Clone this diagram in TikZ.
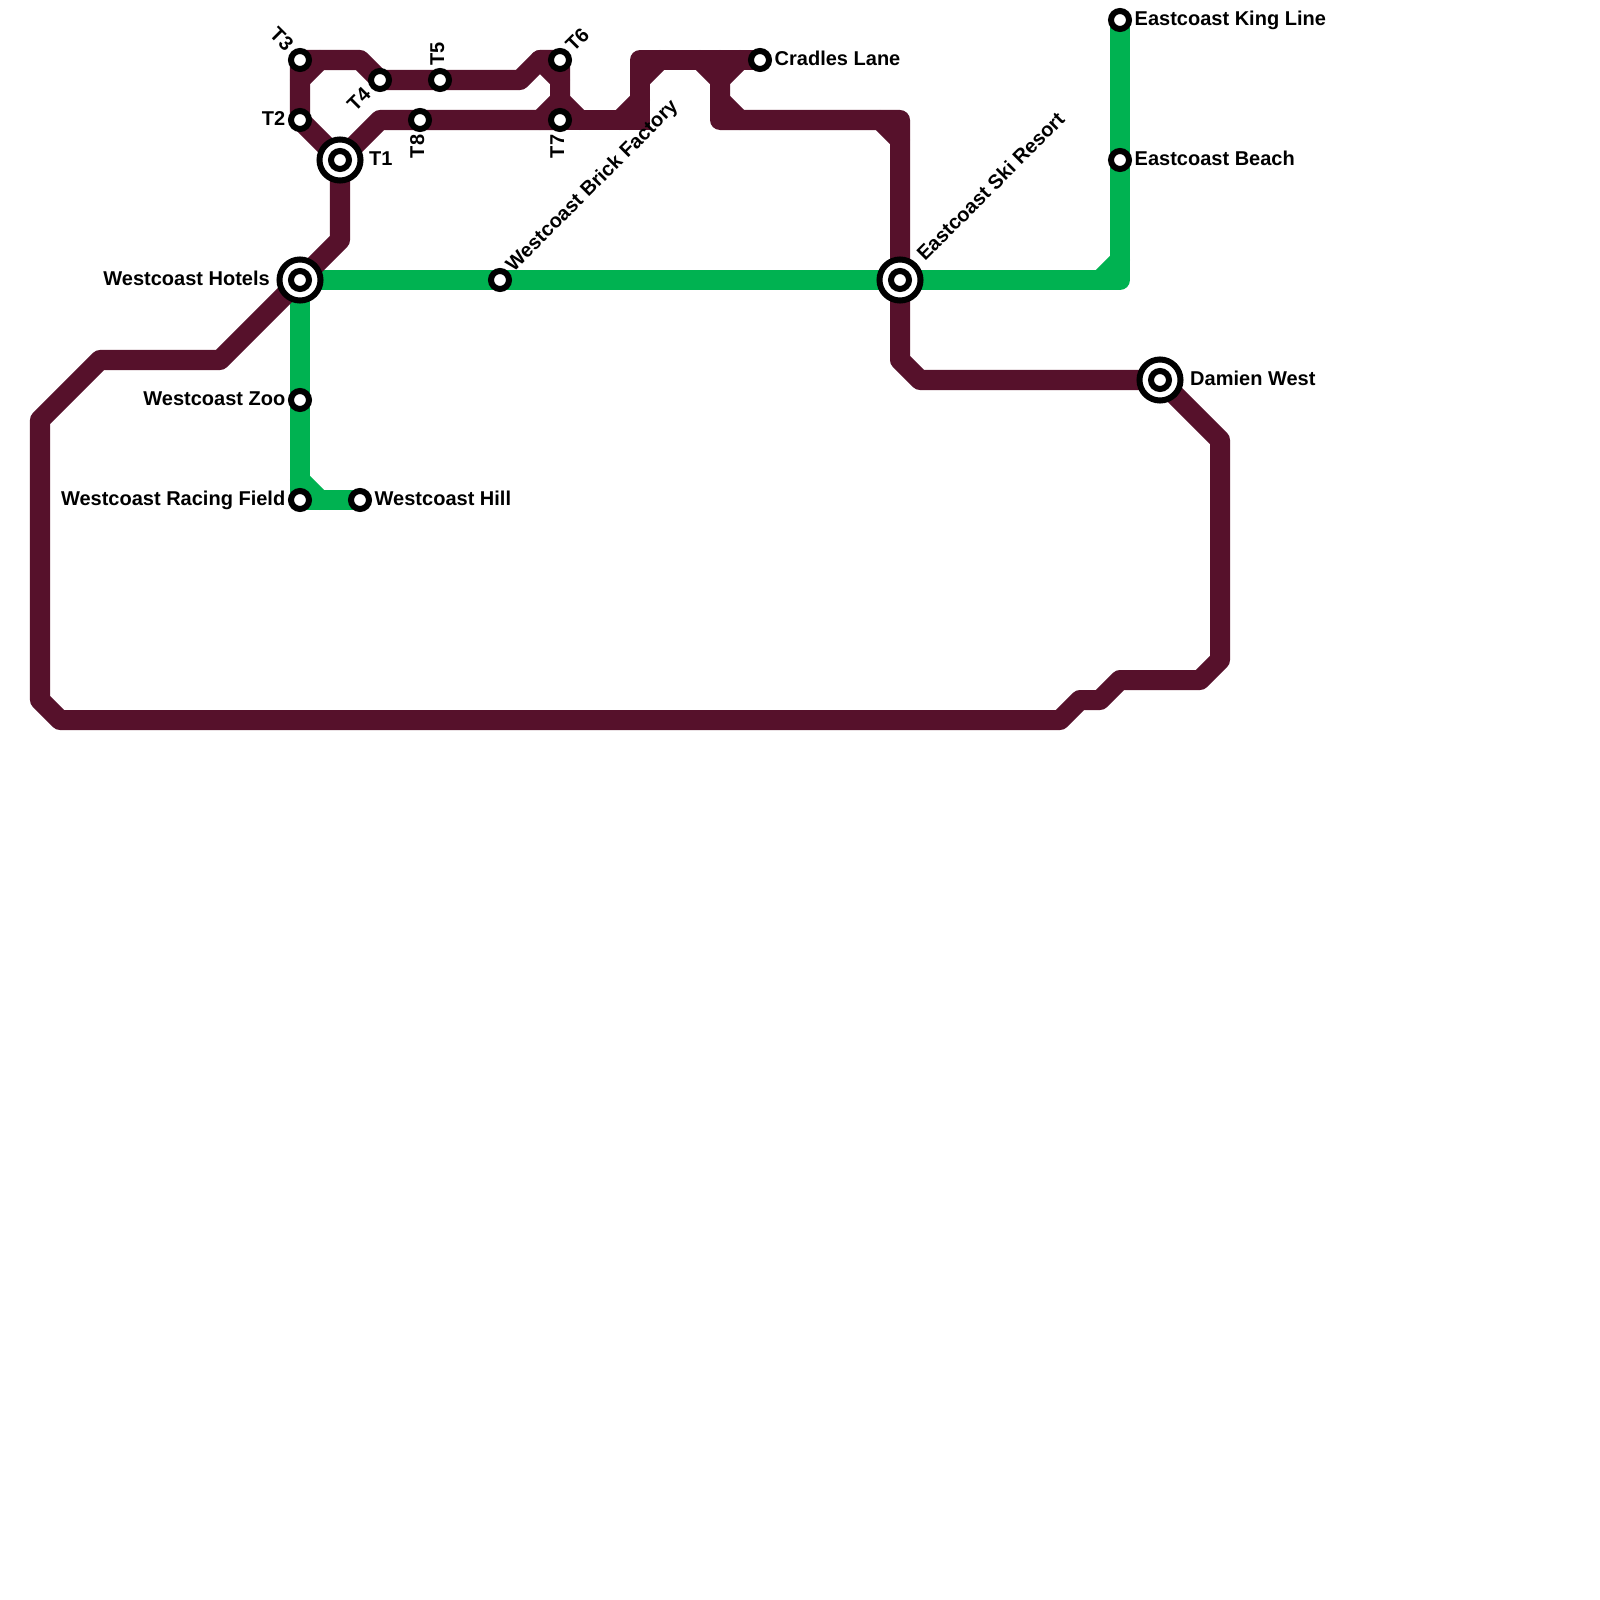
\documentclass[tikz,border=0pt]{standalone}
\usepackage{fontspec}
\setmainfont{Liberation Sans}
\usetikzlibrary{positioning,backgrounds}
\definecolor{maroonline}{HTML}{56112B}
\definecolor{greenline}{HTML}{00B251}

\begin{document}
\begin{tikzpicture}[
    x=0.01cm,y=-0.01cm,
    stn/.style={circle,draw=black,fill=white,line width=0.06cm,minimum size=0.18cm,inner sep=0pt},
    hub/.style={circle,draw=black,fill=white,line width=0.06cm,minimum size=0.41cm,inner sep=0pt},
    lbl/.style={inner sep=0pt,text height=0.155cm,text depth=0.045cm,font=\bfseries\fontsize{5.69}{6.8}\selectfont},
    mline/.style={draw=maroonline,line width=0.2cm,line cap=round,line join=round},
    gline/.style={draw=greenline,line width=0.2cm,line cap=round,line join=round}
]
\useasboundingbox (0,0) rectangle (1600,1600);
% interchanges
\node[hub] (t1) at (340,160) {};
\node[stn] (t1c) at (t1) {};
\node[hub] (hotels) at (300,280) {};
\node[stn] (hotelsc) at (hotels) {};
\node[hub] (ski) at (900,280) {};
\node[stn] (skic) at (ski) {};
\node[hub] (damien) at (1160,380) {};
\node[stn] (damienc) at (damien) {};
% stations
\node[stn] (t2) at (300,120) {};
\node[stn] (t3) at (300,60) {};
\node[stn] (t4) at (380,80) {};
\node[stn] (t5) at (440,80) {};
\node[stn] (t6) at (560,60) {};
\node[stn] (t7) at (560,120) {};
\node[stn] (t8) at (420,120) {};
\node[stn] (cradles) at (760,60) {};
\node[stn] (brick) at (500,280) {};
\node[stn] (king) at (1120,20) {};
\node[stn] (beach) at (1120,160) {};
\node[stn] (zoo) at (300,400) {};
\node[stn] (racing) at (300,500) {};
\node[stn] (hill) at (360,500) {};
% labels
\node[lbl,right=0.05cm of t1] (lt1) {T1};
\node[lbl,left=0.02cm of t2] (lt2) {T2};
\node[lbl,above left=0.03cm and 0.02cm of t3,anchor=east,rotate=-45] (lt3) {T3};
\node[lbl,below left=0.03cm and 0.03cm of t4,anchor=east,rotate=45] (lt4) {T4};
\node[lbl,above=0.02cm of t5,xshift=-0.015cm,anchor=west,rotate=90] (lt5) {T5};
\node[lbl,above right=0.02cm and 0.01cm of t6,anchor=west,rotate=45] (lt6) {T6};
\node[lbl,below=0.02cm of t7,xshift=-0.015cm,anchor=east,rotate=90] (lt7) {T7};
\node[lbl,below=0.02cm of t8,xshift=-0.015cm,anchor=east,rotate=90] (lt8) {T8};
\node[lbl,right=0.02cm of cradles] (lcradles) {Cradles Lane};
\node[lbl,above right=0.025cm and 0.01cm of brick,anchor=west,rotate=45] (lbrick) {Westcoast Brick Factory};
\node[lbl,above right=0.05cm and 0.04cm of ski,anchor=west,rotate=45] (lski) {Eastcoast Ski Resort};
\node[lbl,left=0.06cm of hotels] (lhotels) {Westcoast Hotels};
\node[lbl,left=0.02cm of zoo] (lzoo) {Westcoast Zoo};
\node[lbl,left=0.02cm of racing] (lracing) {Westcoast Racing Field};
\node[lbl,right=0.02cm of hill] (lhill) {Westcoast Hill};
\node[lbl,right=0.02cm of king] (lking) {Eastcoast King Line};
\node[lbl,right=0.02cm of beach] (lbeach) {Eastcoast Beach};
\node[lbl,right=0.06cm of damien] (ldamien) {Damien West};
% lines
\begin{scope}[on background layer]
\draw[gline] (hotels.center) -- (ski.center) -- (1120,280) -- (beach.center) -- (king.center);
\draw[gline] (1100,280) -- (1120,260);
\draw[gline] (hotels.center) -- (zoo.center) -- (racing.center) -- (hill.center);
\draw[gline] (300,480) -- (320,500);
\draw[mline] (t1.center) -- (340,240) -- (hotels.center) -- (220,360) -- (100,360) -- (40,420) -- (40,700) -- (60,720) -- (1060,720) -- (1080,700) -- (1100,700) -- (1120,680) -- (1200,680) -- (1220,660) -- (1220,440) -- (damien.center) -- (920,380) -- (900,360) -- (ski.center) -- (900,120) -- (720,120) -- (720,60);
\draw[mline] (880,120) -- (900,140);
\draw[mline] (t1.center) -- (t2.center) -- (t3.center) -- (360,60) -- (t4.center) -- (t5.center) -- (520,80) -- (540,60) -- (t6.center) -- (t7.center);
\draw[mline] (300,80) -- (320,60);
\draw[mline] (540,60) -- (560,80);
\draw[mline] (t1.center) -- (380,120) -- (t8.center) -- (t7.center);
\draw[mline,line cap=rect] (t7.center) -- (640,120);
\draw[mline] (640,120) -- (640,60) -- (cradles.center);
\draw[mline] (540,120) -- (560,100) -- (580,120);
\draw[mline] (620,120) -- (640,100);
\draw[mline] (640,80) -- (660,60);
\draw[mline] (700,60) -- (720,80) -- (740,60);
\draw[mline] (720,100) -- (740,120);
\end{scope}
\end{tikzpicture}
\end{document}
